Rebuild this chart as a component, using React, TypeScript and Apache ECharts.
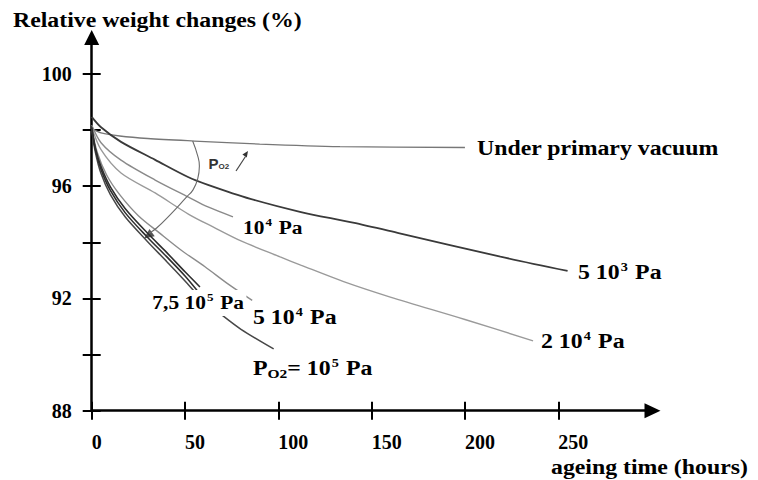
import React, { useEffect, useRef } from "react";
import * as echarts from "echarts";

// Ageing time (hours) vs. relative weight (%), one curve per oxygen partial pressure
const vacuum = [[0, 98.05], [5, 97.9], [15, 97.79], [30, 97.7], [55, 97.61], [90, 97.5], [133, 97.41], [200, 97.38]];
const p5e3 = [[0, 98.47], [5, 98.1], [15.7, 97.58], [34, 96.94], [51.6, 96.33], [62.3, 96.05], [85, 95.55], [111.6, 95.09], [140, 94.7], [165, 94.32], [219, 93.49], [255, 92.98]];
const p1e4 = [[0, 98.18], [5, 97.55], [15.7, 96.93], [34, 96.22], [51.6, 95.62], [62.3, 95.26], [75.7, 94.91]];
const p2e4 = [[0, 98.1], [5, 97.3], [15.7, 96.47], [34, 95.76], [52, 95.0], [65, 94.55], [80, 94.05], [101, 93.48], [112, 93.19], [135, 92.6], [160, 92.05], [200, 91.25], [236.5, 90.49]];
const p5e4 = [[0, 98.07], [3, 97.2], [8, 96.4], [15, 95.7], [25, 94.95], [36.6, 94.32], [48, 93.72], [60.7, 93.13], [73, 92.52], [86, 91.93]];
const p75e5a = [[0, 98.1], [2, 97.3], [5, 96.6], [10, 95.85], [18, 95.05], [29.6, 94.2], [40, 93.5], [50, 92.8], [56.4, 92.29]];
const p75e5b = [[0, 98.1], [2, 97.35], [5, 96.7], [10, 95.98], [18, 95.2], [29.6, 94.35], [40, 93.65], [50, 92.95], [58, 92.41]];
const p1e5 = [[0, 98.0], [2, 97.2], [5, 96.45], [10, 95.7], [18, 94.9], [29.6, 94.05], [40, 93.33], [50, 92.62], [58, 92.05], [69, 91.45], [80, 90.9], [97.5, 90.2]];

// Arc showing the direction of increasing P_O2
const arcPath = [[54.1, 97.61], [56.8, 97.08], [57.7, 96.72], [56.8, 96.26], [54.3, 95.87], [50.9, 95.62], [42.0, 94.98], [34.8, 94.51], [30.7, 94.32]];
const arcHead = [[30.2, 94.24]];

const xTicks = [0, 50, 100, 150, 200, 250];
const yTicks = [88, 90, 92, 94, 96, 98, 100];
const yLabels = [88, 92, 96, 100];

const FONT = "Liberation Serif";
const SANS = "Liberation Sans";
const SX = 1.19;

// Superscripts sit at the top of a taller box, subscripts at the bottom,
// so both stick out of the line of normal-sized text.
const serifRich = (size: number) => ({
  a: { fontSize: size, fontWeight: "bold", fontFamily: FONT, fill: "#000" },
  sup: {
    fontSize: Math.round(size * 0.62),
    fontWeight: "bold",
    fontFamily: FONT,
    fill: "#000",
    verticalAlign: "top",
    padding: [0, 1, 11, 1],
  },
  sub: {
    fontSize: Math.round(size * 0.66),
    fontWeight: "bold",
    fontFamily: FONT,
    fill: "#000",
    verticalAlign: "bottom",
    padding: [10, 0, 0, 0],
  },
});

const label = (text: string, x: number, y: number, size: number, extra: any = {}) => ({
  type: "text",
  x,
  y,
  scaleX: SX,
  z: 100,
  style: {
    text,
    rich: serifRich(size),
    x: 0,
    y: 0,
    align: "left",
    verticalAlign: "middle",
    fontFamily: FONT,
    fontSize: size,
    fontWeight: "bold",
    fill: "#000",
    ...extra,
  },
});

const curve = (data: number[][], color: string, width: number) => ({
  type: "line",
  data,
  smooth: 0.3,
  showSymbol: false,
  symbol: "none",
  silent: true,
  lineStyle: { color, width },
});

const tickFont = { fontFamily: FONT, fontSize: 20, fontWeight: "bold", color: "#000" };

const option: any = {
  animation: false,
  backgroundColor: "#fff",
  grid: { left: 91.7, right: 105.5, top: 37.5, bottom: 69.3, containLabel: false, outerBoundsMode: "none" },
  xAxis: [
    {
      type: "value",
      min: 0,
      max: 300.5,
      position: "bottom",
      axisLine: { show: true, onZero: false, symbol: ["none", "triangle"], symbolSize: [15, 16], lineStyle: { color: "#000", width: 2.5 } },
      axisTick: { show: true, inside: false, length: 9, customValues: xTicks, lineStyle: { color: "#000", width: 2 } },
      axisLabel: { show: true, customValues: xTicks, align: "left", margin: 21, ...tickFont },
      splitLine: { show: false },
    },
    {
      type: "value",
      min: 0,
      max: 300.5,
      position: "bottom",
      axisLine: { show: false, onZero: false },
      axisTick: { show: true, inside: true, length: 9, customValues: xTicks, lineStyle: { color: "#000", width: 2 } },
      axisLabel: { show: false },
      splitLine: { show: false },
    },
  ],
  yAxis: [
    {
      type: "value",
      min: 88,
      max: 101.3,
      position: "left",
      axisLine: { show: true, onZero: false, symbol: ["none", "triangle"], symbolSize: [15, 15], lineStyle: { color: "#000", width: 2.5 } },
      axisTick: { show: true, inside: false, length: 9, customValues: yTicks, lineStyle: { color: "#000", width: 2 } },
      axisLabel: { show: true, customValues: yLabels, margin: 20, ...tickFont },
      splitLine: { show: false },
    },
    {
      type: "value",
      min: 88,
      max: 101.3,
      position: "left",
      axisLine: { show: false, onZero: false },
      axisTick: { show: true, inside: true, length: 9, customValues: yTicks, lineStyle: { color: "#000", width: 2 } },
      axisLabel: { show: false },
      splitLine: { show: false },
    },
  ],
  series: [
    curve(vacuum, "#777777", 1.3),
    curve(p5e3, "#3a3a3a", 1.8),
    curve(p1e4, "#8a8a8a", 1.4),
    curve(p2e4, "#9a9a9a", 1.4),
    curve(p5e4, "#8c8c8c", 1.4),
    curve(p1e5, "#474747", 1.5),
    curve(p75e5a, "#2e2e2e", 1.6),
    curve(p75e5b, "#2e2e2e", 1.6),
    { ...curve(arcPath, "#6a6a6a", 1.1), smooth: 0.5 },
    {
      type: "scatter",
      data: arcHead,
      symbol: "triangle",
      symbolSize: [9, 10],
      symbolRotate: 126,
      silent: true,
      itemStyle: { color: "#2a2a2a" },
    },
  ],
  graphic: {
    elements: [
      label("{a|Relative weight changes (%)}", 13, 20.5, 20),
      label("{a|ageing time (hours)}", 551, 467, 20),
      label("{a|Under primary vacuum}", 477, 148, 20),
      label("{a|5 10}{sup|3}{a| Pa}", 578, 272.5, 20),
      label("{a|2 10}{sup|4}{a| Pa}", 541, 341, 20),
      label("{a|10}{sup|4}{a| Pa}", 243, 228, 18),
      label("{a|7,5 10}{sup|5}{a| Pa}", 150, 303, 18, { backgroundColor: "#fff", padding: [2, 2, 2, 2] }),
      label("{a|5 10}{sup|4}{a| Pa}", 253, 317, 20),
      label("{a|P}{sub|O2}{a|= 10}{sup|5}{a| Pa}", 253, 368, 20),
      {
        type: "text",
        x: 208.5,
        y: 163,
        z: 100,
        style: {
          text: "{p|P}{o|O2}",
          x: 0,
          y: 0,
          align: "left",
          verticalAlign: "middle",
          rich: {
            p: { fontSize: 15, fontWeight: "bold", fontFamily: SANS, fill: "#333" },
            o: { fontSize: 8, fontWeight: "bold", fontFamily: SANS, fill: "#333", verticalAlign: "bottom" },
          },
        },
      },
      {
        type: "line",
        z: 100,
        shape: { x1: 236, y1: 171, x2: 245.5, y2: 156.5 },
        style: { stroke: "#444", lineWidth: 1.2 },
      },
      {
        type: "polygon",
        z: 100,
        shape: { points: [[248, 151], [246.8, 157.6], [242.4, 154.6]] },
        style: { fill: "#333" },
      },
    ],
  },
};

export default function App() {
  const ref = useRef<HTMLDivElement>(null);
  useEffect(() => {
    const chart = echarts.init(ref.current as HTMLDivElement, null, { renderer: "svg" });
    chart.setOption(option);
    return () => chart.dispose();
  }, []);
  return (
    <div
      ref={ref}
      style={{ position: "fixed", left: 0, top: 0, width: 758, height: 480, background: "#fff" }}
    />
  );
}
